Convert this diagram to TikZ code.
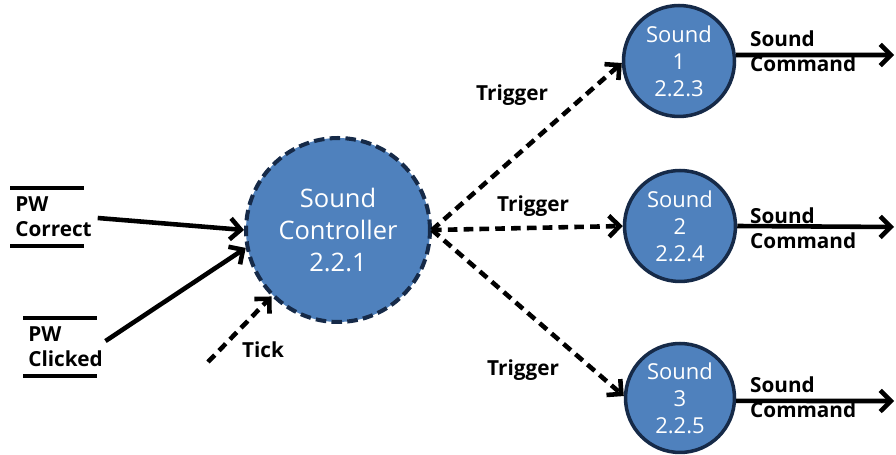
\documentclass[tikz,border=0pt]{standalone}
\usepackage{fontspec}
\setmainfont{Open Sans}
\usetikzlibrary{arrows.meta,positioning}
\definecolor{bubble}{RGB}{79,129,189}
\definecolor{rim}{RGB}{22,42,72}

\begin{document}
\begin{tikzpicture}[x=0.02cm,y=-0.02cm,
  proc/.style={circle,fill=bubble,draw=rim,line width=2pt,text=white,align=center,inner sep=0pt},
  flow/.style={line width=2.6pt,-{Straight Barb[length=6pt,width=12pt]}},
  ctl/.style={flow,dash pattern=on 5.5pt off 3.5pt},
  lbl/.style={font=\bfseries\fontsize{11.8}{14.3}\selectfont,align=left},
  store/.style={lbl,inner xsep=0.1cm,text width=1.26cm,minimum height=1.14cm},
  bar/.style={line width=2.3pt}]
\useasboundingbox (0,0) rectangle (896,455);

% Processes
\node[proc,line width=2.3pt,dash pattern=on 6pt off 3pt,minimum size=3.68cm,
  font=\fontsize{14.5}{18.2}\selectfont] (ctrl) at (338,230) {Sound\\Controller\\2.2.1};
\node[proc,minimum size=2.22cm,font=\fontsize{12.5}{15.3}\selectfont] (snd1) at (679,61) {Sound\\1\\2.2.3};
\node[proc,minimum size=2.22cm,font=\fontsize{12.5}{15.3}\selectfont] (snd2) at (680,226) {Sound\\2\\2.2.4};
\node[proc,minimum size=2.18cm,font=\fontsize{12.5}{15.3}\selectfont] (snd3) at (680,398) {Sound\\3\\2.2.5};

% Data stores
\node[store,anchor=north west] (correct) at (10,188) {PW\\Correct};
\node[store,anchor=north west] (clicked) at (23,318) {PW\\Clicked};
\draw[bar] (correct.north west) -- (correct.north east);
\draw[bar] (correct.south west) -- (correct.south east);
\draw[bar] (clicked.north west) -- (clicked.north east);
\draw[bar] (clicked.south west) -- (clicked.south east);

% Inputs
\draw[flow,shorten <=8pt] (correct.east) -- (ctrl.west);
\draw[flow,shorten <=6pt] (clicked.east) -- (ctrl.191);
\coordinate (tick) at (208,362);
\draw[ctl] (tick) -- (ctrl.225);
\node[lbl] (ticklbl) at (263,350) {Tick};

% Triggers
\draw[ctl] (ctrl.east) -- (snd1.182);
\draw[ctl] (ctrl.east) -- (snd2.west);
\draw[ctl] (ctrl.east) -- (snd3.178);
\node[lbl] (trig1) at (512,95) {Trigger};
\node[lbl] (trig2) at (533,206) {Trigger};
\node[lbl] (trig3) at (523,370) {Trigger};

% Outputs
\coordinate (out1) at (894,55);
\coordinate (out2) at (894,227);
\coordinate (out3) at (894,401);
\draw[flow] (snd1.6) -- (out1);
\draw[flow] (snd2.east) -- (out2);
\draw[flow] (snd3.357) -- (out3);
\node[lbl,anchor=west] (cmd1) at (744,51) {Sound\\Command};
\node[lbl,anchor=west] (cmd2) at (744,228) {Sound\\Command};
\node[lbl,anchor=west] (cmd3) at (744,397) {Sound\\Command};
\end{tikzpicture}
\end{document}
